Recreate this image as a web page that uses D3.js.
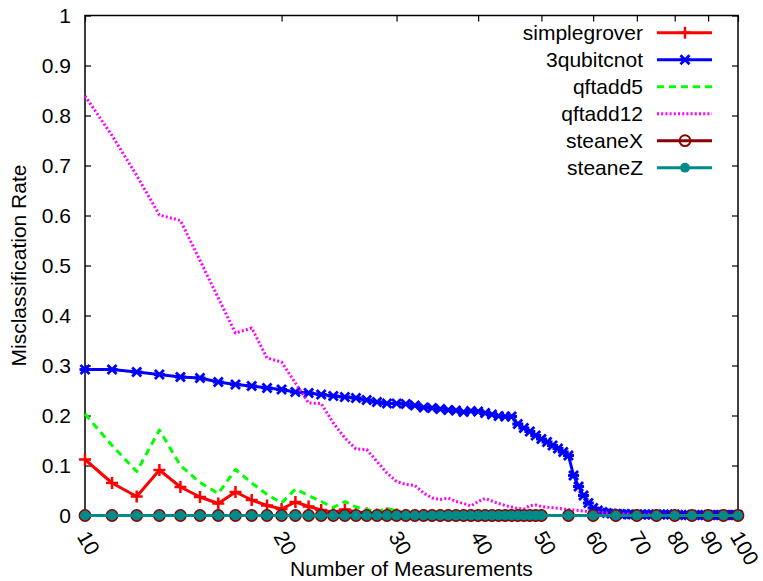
<!DOCTYPE html>
<html><head><meta charset="utf-8">
<script src="https://cdn.jsdelivr.net/npm/d3@7"></script>
<style>
html,body{margin:0;padding:0;background:#fff;}
svg{display:block;font-family:"Liberation Sans",Arial,Helvetica,sans-serif;}
</style></head>
<body><svg id="c" width="763" height="581"></svg>
<script>
// ---- data ----
const xMain = [10,11,12,13,14,15,16,17,18,19,20,21,22,23,24,25,26,27,28,29,30,31,32,33,34,35,36,37,38,39,40,41,42,43,44,45,46,47,48,49,50,55,60,65,70,75,80,85,90,95,100];
const simplegrover = [0.112,0.065,0.038,0.091,0.057,0.037,0.024,0.047,0.031,0.020,0.013,0.027,0.018,0.011,0.006,0.012,0.007,0.004,0.002,0.004,0.002,0.001,0,0.001,0,0,0,0,0,0,0,0,0,0,0,0,0,0,0,0,0,0,0,0,0,0,0,0,0,0,0];
const qftadd5 = [0.203,0.140,0.088,0.171,0.100,0.066,0.044,0.092,0.065,0.042,0.025,0.053,0.040,0.028,0.016,0.028,0.017,0.012,0.008,0.014,0.009,0.005,0.003,0.007,0.003,0.002,0.001,0.003,0.001,0.001,0,0,0,0,0,0,0,0,0,0,0,0,0,0,0,0,0,0,0,0,0];
const qftadd12 = [0.839,0.760,0.680,0.601,0.590,0.510,0.435,0.365,0.375,0.315,0.307,0.265,0.225,0.224,0.185,0.155,0.133,0.132,0.108,0.085,0.068,0.062,0.060,0.045,0.035,0.032,0.035,0.028,0.024,0.019,0.028,0.034,0.029,0.024,0.020,0.017,0.014,0.013,0.020,0.021,0.018,0.012,0.007,0.004,0.002,0.001,0,0,0,0,0];
const steaneX = xMain.map(() => 0);
const steaneZ = xMain.map(() => 0);
const xCnot = d3.range(10, 101);
const qubitcnot3 = [0.292,0.292,0.287,0.282,0.277,0.275,0.267,0.262,0.259,0.255,0.252,0.247,0.245,0.242,0.239,0.237,0.235,0.231,0.227,0.224,0.224,0.223,0.220,0.216,0.215,0.213,0.211,0.210,0.207,0.209,0.208,0.205,0.202,0.199,0.198,0.198,0.183,0.175,0.168,0.160,0.153,0.147,0.140,0.134,0.127,0.120,0.080,0.058,0.040,0.025,0.015,0.010,0.007,0.005,0.004,0.003,0.003,0.003,0.002,0.002,0.002,0.002,0.002,0.002,0.002,0.002,0.002,0.002,0.002,0.002,0.002,0.001,0.001,0.001,0.001,0.001,0.001,0.001,0.001,0.001,0.001,0.001,0.001,0.001,0.001,0.001,0.001,0.001,0.001,0.001,0.001];
const xTicks = [10,20,30,40,50,60,70,80,90,100];
const yTicks = [0,0.1,0.2,0.3,0.4,0.5,0.6,0.7,0.8,0.9,1];
const xTitle = "Number of Measurements";
const yTitle = "Misclassification Rate";

const series = [
  {name:"simplegrover", xs:xMain, ys:simplegrover, color:"#ff0000", dash:null, marker:"plus"},
  {name:"3qubitcnot", xs:xCnot, ys:qubitcnot3, color:"#0000ff", dash:null, marker:"star"},
  {name:"qftadd5", xs:xMain, ys:qftadd5, color:"#00ff00", dash:"7,5", marker:null},
  {name:"qftadd12", xs:xMain, ys:qftadd12, color:"#ff00ff", dash:"2,2.2", marker:null},
  {name:"steaneX", xs:xMain, ys:steaneX, color:"#8b0000", dash:null, marker:"ocircle"},
  {name:"steaneZ", xs:xMain, ys:steaneZ, color:"#008b8b", dash:null, marker:"fcircle"}
];

// ---- layout ----
const L = 85, R = 738, T = 15.5, B = 515.5;
const FS = 21;
const svg = d3.select("#c");
const x = d3.scaleLog().domain([10,100]).range([L,R]);
const y = d3.scaleLinear().domain([0,1]).range([B,T]);

function drawMarker(g, type, cx, cy, color) {
  if (type === "plus") {
    g.append("path").attr("d", `M${cx-6},${cy}H${cx+6}M${cx},${cy-6}V${cy+6}`)
      .attr("stroke", color).attr("stroke-width", 2.5).attr("fill","none");
  } else if (type === "star") {
    const s = 4.5;
    g.append("path").attr("d", `M${cx-s},${cy-s}L${cx+s},${cy+s}M${cx-s},${cy+s}L${cx+s},${cy-s}M${cx-5.5},${cy}H${cx+5.5}`)
      .attr("stroke", color).attr("stroke-width", 2.8).attr("fill","none");
  } else if (type === "ocircle") {
    g.append("circle").attr("cx",cx).attr("cy",cy).attr("r",5.4)
      .attr("fill","none").attr("stroke",color).attr("stroke-width",2);
  } else if (type === "fcircle") {
    g.append("circle").attr("cx",cx).attr("cy",cy).attr("r",4.9)
      .attr("fill",color).attr("stroke","none");
  }
}

// axes (ticks inward, mirrored)
const axB = svg.append("g").attr("transform",`translate(0,${B})`)
  .call(d3.axisBottom(x).tickValues(xTicks).tickSize(-6).tickFormat(d3.format("d")));
const axT = svg.append("g").attr("transform",`translate(0,${T})`)
  .call(d3.axisTop(x).tickValues(xTicks).tickSize(-6).tickFormat(""));
const axL = svg.append("g").attr("transform",`translate(${L},0)`)
  .call(d3.axisLeft(y).tickValues(yTicks).tickSize(-6).tickPadding(14).tickFormat(d => String(+d.toFixed(1))));
const axRt = svg.append("g").attr("transform",`translate(${R},0)`)
  .call(d3.axisRight(y).tickValues(yTicks).tickSize(-6).tickFormat(""));
[axB,axT,axL,axRt].forEach(a => {
  a.select(".domain").remove();
  a.selectAll(".tick line").attr("stroke","#000").attr("stroke-width",1.2);
  a.selectAll("text").attr("font-size",FS).attr("font-family","Liberation Sans, Arial, sans-serif").attr("fill","#000");
});
axB.selectAll(".tick text")
  .attr("x",0).attr("y",0).attr("dy",null)
  .attr("text-anchor","start")
  .attr("transform","translate(-9,21) rotate(60)");

// frame
svg.append("rect").attr("x",L).attr("y",T).attr("width",R-L).attr("height",B-T)
  .attr("fill","none").attr("stroke","#000").attr("stroke-width",1.5);

// series
const plot = svg.append("g");
const line = d3.line().x(d => x(d[0])).y(d => y(d[1]));
series.forEach(s => {
  const pts = s.xs.map((xv,i) => [xv, s.ys[i]]);
  plot.append("path").datum(pts).attr("d", line)
    .attr("fill","none").attr("stroke", s.color).attr("stroke-width", 3)
    .attr("stroke-dasharray", s.dash).attr("stroke-linejoin","round");
  if (s.marker) {
    const mg = plot.append("g");
    pts.forEach(p => drawMarker(mg, s.marker, x(p[0]), y(p[1]), s.color));
  }
});

// legend
const lg = svg.append("g");
series.forEach((s,i) => {
  const cy = 32.7 + i*27;
  lg.append("text").attr("x",643).attr("y",cy+7).attr("text-anchor","end")
    .attr("font-size",FS).attr("fill","#000").text(s.name);
  lg.append("line").attr("x1",657).attr("x2",712).attr("y1",cy).attr("y2",cy)
    .attr("stroke",s.color).attr("stroke-width",3).attr("stroke-dasharray",s.dash);
  if (s.marker) drawMarker(lg, s.marker, 685, cy, s.color);
});

// titles
svg.append("text").attr("x",(L+R)/2).attr("y",576).attr("text-anchor","middle")
  .attr("font-size",FS).attr("fill","#000").text(xTitle);
svg.append("text").attr("transform",`translate(26,${(T+B)/2}) rotate(-90)`).attr("text-anchor","middle")
  .attr("font-size",FS).attr("fill","#000").text(yTitle);
</script></body></html>
